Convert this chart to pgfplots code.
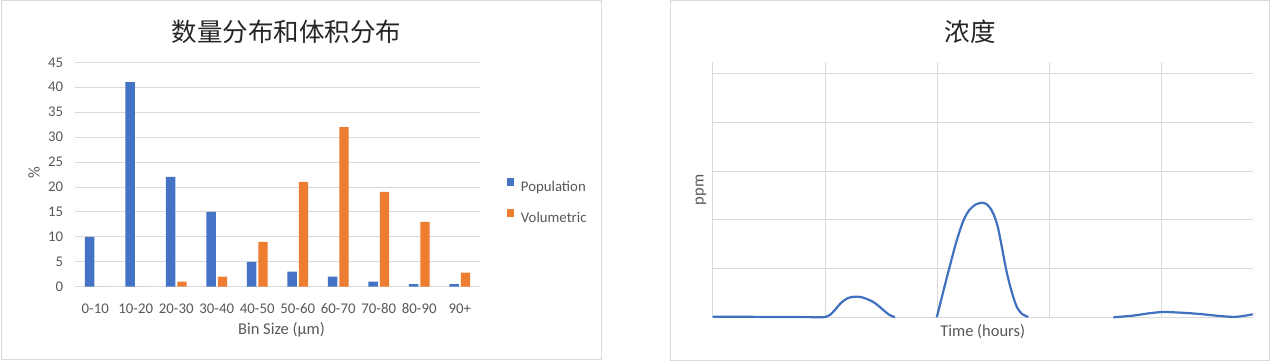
\documentclass[border=0pt]{standalone}
\usepackage{pgfplots}
\pgfplotsset{compat=1.18}
\usepackage{fontspec}
\setmainfont{Carlito}
\newfontfamily\cjk{Noto Sans CJK SC}
\definecolor{pblue}{HTML}{4472C4}
\definecolor{porange}{HTML}{ED7D31}
\definecolor{gridgray}{HTML}{D9D9D9}
\definecolor{textgray}{HTML}{595959}
\definecolor{titlegray}{HTML}{262626}
\definecolor{lineblue}{HTML}{4070C0}

\begin{document}
\begin{tikzpicture}[x=1pt,y=1pt]
\fill[white] (0,0) rectangle (1271,362);
\draw[gridgray, line width=1pt] (1,3) rectangle (601.7,361);
\draw[gridgray, line width=1pt] (670,2) rectangle (1269.3,361);
\node[font=\cjk\fontsize{25.5}{30}\selectfont, text=titlegray] at (286.4,330.3) {数量分布和体积分布};
\node[font=\cjk\fontsize{25.5}{30}\selectfont, text=titlegray] at (970.4,330.3) {浓度};
\node[rotate=90, font=\fontsize{16.5}{19}\selectfont, text=textgray] at (34,189) {\%};
\node[font=\fontsize{16.5}{19}\selectfont, text=textgray] at (281.5,32) {Bin Size (µm)};
\node[rotate=90, font=\fontsize{16.5}{19}\selectfont, text=textgray] at (701,172) {ppm};
\node[font=\fontsize{16.5}{19}\selectfont, text=textgray] at (982.7,30.3) {Time (hours)};

\begin{axis}[
  at={(75pt,75.3pt)}, anchor=south west,
  scale only axis, width=405pt, height=224.4pt,
  xmin=-0.5, xmax=9.5, ymin=0, ymax=45,
  ybar=2pt, bar width=9.3pt,
  xtick={0,...,9},
  xticklabels={0-10,10-20,20-30,30-40,40-50,50-60,60-70,70-80,80-90,90+},
  ytick={0,5,...,45},
  ymajorgrids, grid style={draw=gridgray, line width=0.9pt},
  axis line style={draw=none}, tick style={draw=none},
  /pgf/number format/assume math mode=true,
  ticklabel style={font=\fontsize{14.8}{17}\selectfont, text=textgray},
  yticklabel style={inner sep=0pt, anchor=east, xshift=-11.7pt},
  xticklabel style={inner sep=0pt, anchor=base, yshift=-23pt},
  legend style={at={(1.066,0.378)}, anchor=west, draw=none, fill=none,
    font=\fontsize{14.8}{17}\selectfont, text=textgray, row sep=14.3pt, inner sep=0pt},
  legend cell align=left,
  legend image code/.code={\fill[#1] (0pt,0.6pt) rectangle (6.7pt,8.6pt); \path (0pt,0pt) (12pt,0pt);},
]
\addplot[fill=pblue, draw=none] coordinates {(0,10) (1,41) (2,22) (3,15) (4,5) (5,3) (6,2) (7,1) (8,0.5) (9,0.5)};
\addplot[fill=porange, draw=none] coordinates {(0,0) (1,0) (2,1) (3,2) (4,9) (5,21) (6,32) (7,19) (8,13) (9,2.8)};
\legend{Population, Volumetric}
\end{axis}

\begin{axis}[
  at={(712.7pt,44.7pt)}, anchor=south west,
  scale only axis, width=540pt, height=255.6pt,
  xmin=0, xmax=4.81, ymin=0, ymax=5.25,
  xtick={0,...,4}, ytick={0,...,5},
  xticklabels={}, yticklabels={},
  grid=major, grid style={draw=gridgray, line width=0.9pt},
  axis line style={draw=none}, tick style={draw=none},
  clip=false,
]
\addplot[lineblue, line width=2.2pt, smooth] table {
0 0.012
0.3 0.01
0.6 0.006
0.9 0.003
1.0 0.005
1.05 0.06
1.10 0.18
1.14 0.29
1.20 0.39
1.25 0.42
1.283 0.425
1.33 0.41
1.40 0.35
1.446 0.29
1.50 0.19
1.55 0.09
1.59 0.03
1.624 0.005
};
\addplot[lineblue, line width=2.2pt, smooth] table {
1.996 0.0
2.045 0.45
2.105 0.99
2.17 1.55
2.233 1.985
2.285 2.20
2.345 2.32
2.405 2.355
2.435 2.33
2.47 2.25
2.505 2.10
2.54 1.85
2.575 1.45
2.613 0.99
2.66 0.55
2.708 0.218
2.76 0.06
2.811 0.01
};
\addplot[lineblue, line width=2.2pt, smooth] table {
3.569 0.0
3.74 0.033
3.88 0.08
4.01 0.109
4.17 0.095
4.34 0.068
4.50 0.03
4.638 0.008
4.72 0.025
4.81 0.062
};
\end{axis}
\end{tikzpicture}
\end{document}
